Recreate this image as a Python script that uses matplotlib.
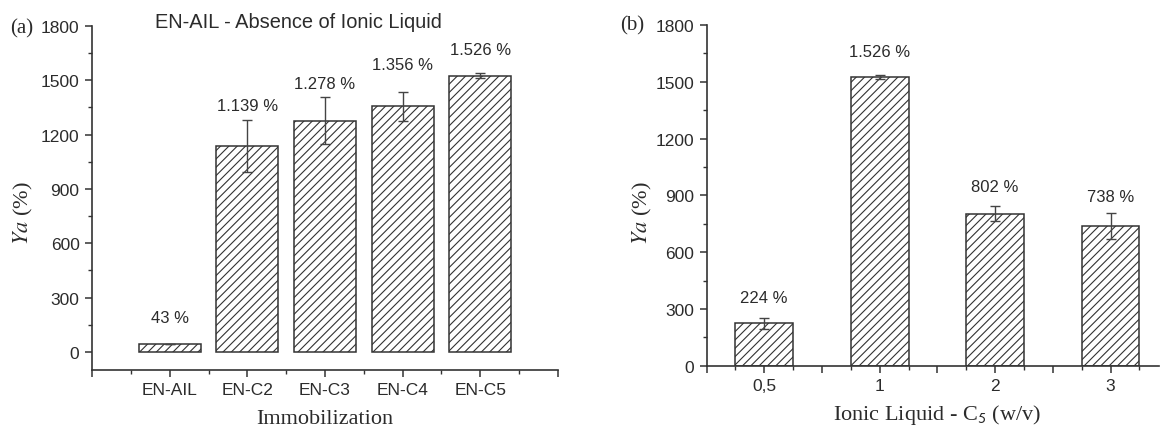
import matplotlib
matplotlib.use("Agg")
import matplotlib.pyplot as plt
import numpy as np

# ---- data ----
cats_a = ["EN-AIL", "EN-C2", "EN-C3", "EN-C4", "EN-C5"]
vals_a = [43, 1139, 1278, 1356, 1526]
err_a = [0, 143, 128, 78, 15]
labels_a = ["43 %", "1.139 %", "1.278 %", "1.356 %", "1.526 %"]
label_y_a = [189, 1359, 1480, 1590, 1668]

cats_b = ["0,5", "1", "2", "3"]
vals_b = [224, 1526, 802, 738]
err_b = [29, 10, 40, 69]
labels_b = ["224 %", "1.526 %", "802 %", "738 %"]
label_y_b = [358, 1661, 948, 895]

plt.rcParams["mathtext.fontset"] = "stix"
plt.rcParams["hatch.color"] = "#333333"
plt.rcParams["hatch.linewidth"] = 0.8

SANS = "Liberation Sans"
SERIF = "Liberation Serif"
DARK = "#2b2b2b"

fig = plt.figure(figsize=(11.6, 4.31), dpi=100)
ax_a = fig.add_axes([92 / 1160, 1 - 371 / 431, 466 / 1160, 344 / 431])
ax_b = fig.add_axes([706.5 / 1160, 1 - 366.7 / 431, 452.5 / 1160, 340.7 / 431])


def style(ax):
    for s in ["top", "right"]:
        ax.spines[s].set_visible(False)
    for s in ["left", "bottom"]:
        ax.spines[s].set_color("#333333")
        ax.spines[s].set_linewidth(1.2)
    ax.tick_params(which="major", direction="out", length=5, width=1.1,
                   color="#333333", labelsize=12.5, labelcolor=DARK, pad=4)
    ax.tick_params(which="minor", direction="out", length=3, width=1.0,
                   color="#333333")
    for lab in ax.get_xticklabels() + ax.get_yticklabels():
        lab.set_family(SANS)


# ---- panel (a) ----
xa = np.arange(1, len(cats_a) + 1)
ax_a.bar(xa, vals_a, width=0.8, facecolor="white", edgecolor="#333333",
         linewidth=1.1, hatch="////", zorder=2)
ax_a.errorbar(xa, vals_a, yerr=err_a, fmt="none", ecolor="#444444",
              elinewidth=1.0, capsize=3.5, capthick=1.0, zorder=3)
ax_a.set_xlim(0, 6)
ax_a.set_ylim(-100, 1800)
ax_a.set_xticks(np.arange(0, 7))
ax_a.set_xticklabels([""] + cats_a + [""])
ax_a.set_xticks(np.arange(0.5, 6, 1), minor=True)
ax_a.set_yticks(np.arange(0, 1801, 300))
ax_a.set_yticks(np.arange(150, 1800, 300), minor=True)
style(ax_a)
for x, ly, t in zip(xa, label_y_a, labels_a):
    ax_a.text(x, ly, t, ha="center", va="center", fontsize=12,
              family=SANS, color=DARK)
ax_a.text(0.442, 1.013, "EN-AIL - Absence of Ionic Liquid",
          transform=ax_a.transAxes, ha="center", va="center",
          fontsize=14.4, family=SANS, color=DARK)
ax_a.set_xlabel("Immobilization", family=SERIF, fontsize=16, color=DARK)
ax_a.xaxis.set_label_coords(0.5, -0.112)
ax_a.set_ylabel(r"$\mathit{Ya}$ (%)", family=SERIF, fontsize=16, color=DARK)
ax_a.yaxis.set_label_coords(-0.122, 0.459)

# ---- panel (b) ----
xb = np.arange(1, len(cats_b) + 1)
ax_b.bar(xb, vals_b, width=0.5, facecolor="white", edgecolor="#333333",
         linewidth=1.1, hatch="////", zorder=2)
ax_b.errorbar(xb, vals_b, yerr=err_b, fmt="none", ecolor="#444444",
              elinewidth=1.0, capsize=3.5, capthick=1.0, zorder=3)
ax_b.set_xlim(0.5, 4.42)
ax_b.set_ylim(0, 1800)
ax_b.set_xticks(np.arange(0.5, 4.5, 0.5))
ax_b.set_xticklabels([cats_b[int(v) - 1] if float(v).is_integer() else ""
                      for v in np.arange(0.5, 4.5, 0.5)])
ax_b.set_xticks(np.arange(0.75, 4.5, 0.5), minor=True)
ax_b.set_yticks(np.arange(0, 1801, 300))
ax_b.set_yticks(np.arange(150, 1800, 300), minor=True)
style(ax_b)
for x, ly, t in zip(xb, label_y_b, labels_b):
    ax_b.text(x, ly, t, ha="center", va="center", fontsize=12,
              family=SANS, color=DARK)
ax_b.set_xlabel(r"Ionic Liquid - C$_\mathsf{5}$ (w/v)", family=SERIF,
                fontsize=16, color=DARK)
ax_b.xaxis.set_label_coords(0.51, -0.108)
ax_b.set_ylabel(r"$\mathit{Ya}$ (%)", family=SERIF, fontsize=16, color=DARK)
ax_b.yaxis.set_label_coords(-0.117, 0.451)

fig.text(21.5 / 1160, 1 - 29 / 431, "(a)", family=SERIF, fontsize=15,
         ha="center", va="center", color=DARK)
fig.text(632 / 1160, 1 - 26 / 431, "(b)", family=SERIF, fontsize=15,
         ha="center", va="center", color=DARK)

fig.savefig("out.png", dpi=100)
